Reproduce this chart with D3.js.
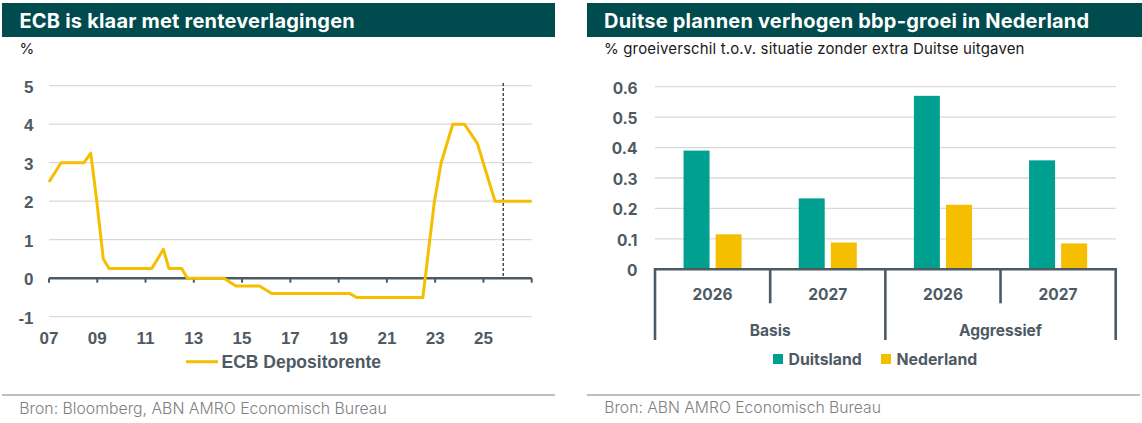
<!DOCTYPE html>
<html>
<head>
<meta charset="utf-8">
<script src="https://cdnjs.cloudflare.com/ajax/libs/d3/7.8.5/d3.min.js"></script>
<style>
    body { margin: 0; background: #fff; }
    text { font-family: Inter, "Noto Sans", sans-serif; }
</style>
</head>
<body>
<script>
// ---- left chart: ECB deposit rate, x in decimal years
var rateYears  = [2007.0, 2007.5, 2008.45, 2008.73, 2008.98, 2009.25, 2009.49, 2011.26, 2011.74, 2011.97,
                  2012.5, 2012.73, 2014.25, 2014.74, 2015.72, 2016.23, 2019.47, 2019.75, 2022.49, 2022.97,
                  2023.25, 2023.73, 2024.21, 2024.75, 2025.48, 2027.0];
var rateValues = [2.5, 3.0, 3.0, 3.25, 2.0, 0.5, 0.25, 0.25, 0.75, 0.25,
                  0.25, 0, 0, -0.2, -0.2, -0.4, -0.4, -0.5, -0.5, 2.0,
                  3.0, 4.0, 4.0, 3.5, 2.0, 2.0];
var yearTicks  = [2007, 2009, 2011, 2013, 2015, 2017, 2019, 2021, 2023, 2025, 2027];
var yearLabels = ["07", "09", "11", "13", "15", "17", "19", "21", "23", "25"];
var rateTicks  = [-1, 0, 1, 2, 3, 4, 5];
var forecastYear = 2025.82;   // dashed line

// ---- right chart: extra growth from German spending
var groups = ["Basis", "Aggressief"];
var years  = ["2026", "2027"];
var series = ["Duitsland", "Nederland"];
var duitsland = [0.39, 0.233, 0.57, 0.358];
var nederland = [0.115, 0.088, 0.212, 0.085];
var growthTicks = [0, 0.1, 0.2, 0.3, 0.4, 0.5, 0.6];

var titleBg = "#004b4d",
    slate = "#4e5a63",
    grid = "#d9d9d9",
    gold = "#f5bf00",
    teal = "#00a091",
    arial = "'Liberation Sans', Arial, sans-serif";

var svg = d3.select("body")
    .append("svg")
    .attr("width", 1142)
    .attr("height", 423);

// ================= LEFT =================
var left = svg.append("g");

left.append("rect").attr("x", 2).attr("y", 3).attr("width", 553).attr("height", 34).attr("fill", titleBg);
left.append("text").attr("x", 19.5).attr("y", 27.5)
    .attr("fill", "#fff").style("font-weight", 700).style("font-size", "20px")
    .style("letter-spacing", "0.2px")
    .text("ECB is klaar met renteverlagingen");
left.append("text").attr("x", 19.5).attr("y", 49).attr("dy", "0.35em")
    .attr("fill", "#1a1a1a").style("font-size", "15px").text("%");

var x = d3.scaleLinear().domain([2007, 2027]).range([49, 531.7]);
var y = d3.scaleLinear().domain([-1, 5]).range([316.7, 85.7]);

left.append("g")
    .selectAll("line")
    .data(rateTicks.filter(function(d){ return d !== 0; }))
    .enter()
    .append("line")
    .attr("x1", x(2007)).attr("x2", x(2027))
    .attr("y1", function(d){ return y(d); })
    .attr("y2", function(d){ return y(d); })
    .attr("stroke", grid).attr("stroke-width", 1.3);

left.append("g")
    .selectAll("text")
    .data(rateTicks)
    .enter()
    .append("text")
    .attr("x", 33.5)
    .attr("y", function(d){ return y(d) + 1; })
    .attr("dy", "0.35em")
    .attr("text-anchor", "end")
    .attr("fill", slate)
    .style("font-family", arial)
    .style("font-weight", 700).style("font-size", "17px")
    .text(function(d){ return d; });

// zero line doubles as x axis
left.append("line")
    .attr("x1", x(2007)).attr("x2", x(2027))
    .attr("y1", y(0)).attr("y2", y(0))
    .attr("stroke", slate).attr("stroke-width", 2.5);
left.append("g")
    .selectAll("line")
    .data(yearTicks)
    .enter()
    .append("line")
    .attr("x1", function(d){ return x(d); })
    .attr("x2", function(d){ return x(d); })
    .attr("y1", y(0)).attr("y2", y(0) + 4.5)
    .attr("stroke", slate).attr("stroke-width", 2);

left.append("g")
    .selectAll("text")
    .data(yearLabels)
    .enter()
    .append("text")
    .attr("x", function(d, i){ return x(yearTicks[i]); })
    .attr("y", 338.5)
    .attr("dy", "0.35em")
    .attr("text-anchor", "middle")
    .attr("fill", slate)
    .style("font-family", arial)
    .style("font-weight", 700).style("font-size", "17px")
    .text(function(d){ return d; });

left.append("line")
    .attr("x1", x(forecastYear)).attr("x2", x(forecastYear))
    .attr("y1", 83).attr("y2", y(0))
    .attr("stroke", "#222").attr("stroke-width", 1.2)
    .attr("stroke-dasharray", "3,2");

var line = d3.line()
    .x(function(d, i){ return x(rateYears[i]); })
    .y(function(d){ return y(d); });

left.append("path")
    .attr("d", line(rateValues))
    .attr("fill", "none")
    .attr("stroke", gold)
    .attr("stroke-width", 3)
    .attr("stroke-linejoin", "round");

// legend
left.append("line").attr("x1", 186).attr("x2", 218).attr("y1", 361.7).attr("y2", 361.7)
    .attr("stroke", gold).attr("stroke-width", 3);
left.append("text").attr("x", 221.5).attr("y", 361.7).attr("dy", "0.35em")
    .attr("fill", slate)
    .style("font-family", arial)
    .style("font-weight", 700).style("font-size", "17.5px")
    .text("ECB Depositorente");

left.append("line").attr("x1", 2).attr("x2", 555).attr("y1", 395).attr("y2", 395)
    .attr("stroke", "#bfbfbf").attr("stroke-width", 2);
left.append("text").attr("x", 19.3).attr("y", 408.3).attr("dy", "0.35em")
    .attr("fill", "#808080").style("font-size", "15.8px").style("font-weight", 300)
    .text("Bron: Bloomberg, ABN AMRO Economisch Bureau");

// ================= RIGHT =================
var right = svg.append("g");

right.append("rect").attr("x", 587).attr("y", 3).attr("width", 555).attr("height", 34).attr("fill", titleBg);
right.append("text").attr("x", 604).attr("y", 27.5)
    .attr("fill", "#fff").style("font-weight", 700).style("font-size", "20px")
    .style("letter-spacing", "0.2px")
    .text("Duitse plannen verhogen bbp-groei in Nederland");
right.append("text").attr("x", 604).attr("y", 49).attr("dy", "0.35em")
    .attr("fill", "#1a1a1a").style("font-size", "15px").style("letter-spacing", "0.15px")
    .text("% groeiverschil t.o.v. situatie zonder extra Duitse uitgaven");

// one band per group/year pair
var cats = [];
groups.forEach(function(g){ years.forEach(function(yr){ cats.push({group: g, year: yr}); }); });
cats.forEach(function(c, i){ c.Duitsland = duitsland[i]; c.Nederland = nederland[i]; });

var x0 = d3.scaleBand().domain(d3.range(cats.length)).range([655, 1115.7]);
var xg = d3.scaleBand().domain(groups).range([655, 1115.7]);
var x1 = d3.scaleBand().domain(series).range([0, x0.bandwidth()]).paddingInner(0.19).paddingOuter(0.89);
var y2 = d3.scaleLinear().domain([0, 0.6]).range([269.3, 86.7]);
var color = d3.scaleOrdinal().domain(series).range([teal, gold]);

right.append("g")
    .selectAll("line")
    .data(growthTicks.slice(1))
    .enter()
    .append("line")
    .attr("x1", 655).attr("x2", 1115.7)
    .attr("y1", function(d){ return y2(d); })
    .attr("y2", function(d){ return y2(d); })
    .attr("stroke", grid).attr("stroke-width", 1.3);

right.append("g")
    .selectAll("text")
    .data(growthTicks)
    .enter()
    .append("text")
    .attr("x", 637.5)
    .attr("y", function(d){ return y2(d) + 1.5; })
    .attr("dy", "0.35em")
    .attr("text-anchor", "end")
    .attr("fill", slate)
    .style("font-weight", 700).style("font-size", "15.5px")
    .text(function(d){ return d; });

right.append("g")
    .selectAll("g")
    .data(cats)
    .enter()
    .append("g")
    .attr("transform", function(d, i){ return "translate(" + x0(i) + ",0)"; })
    .selectAll("rect")
    .data(function(d){ return series.map(function(s){ return {key: s, value: d[s]}; }); })
    .enter()
    .append("rect")
    .attr("x", function(d){ return x1(d.key); })
    .attr("width", x1.bandwidth())
    .attr("y", function(d){ return y2(d.value); })
    .attr("height", function(d){ return y2(0) - y2(d.value); })
    .attr("fill", function(d){ return color(d.key); });

// category axis, two levels
right.append("line")
    .attr("x1", 655).attr("x2", 1115.7)
    .attr("y1", y2(0)).attr("y2", y2(0))
    .attr("stroke", slate).attr("stroke-width", 2.6);

right.append("g")
    .selectAll("line")
    .data(cats.filter(function(c){ return c.year !== years[0]; }))
    .enter()
    .append("line")
    .attr("x1", function(d){ return x0(cats.indexOf(d)); })
    .attr("x2", function(d){ return x0(cats.indexOf(d)); })
    .attr("y1", y2(0)).attr("y2", 303.3)
    .attr("stroke", slate).attr("stroke-width", 2.6);

var groupEdges = groups.map(function(g){ return xg(g); }).concat([xg.range()[1]]);
right.append("g")
    .selectAll("line")
    .data(groupEdges)
    .enter()
    .append("line")
    .attr("x1", function(d){ return d; })
    .attr("x2", function(d){ return d; })
    .attr("y1", y2(0) - 1.3).attr("y2", 340)
    .attr("stroke", slate).attr("stroke-width", 2.6);

right.append("g")
    .selectAll("text")
    .data(cats)
    .enter()
    .append("text")
    .attr("x", function(d, i){ return x0(i) + x0.bandwidth() / 2; })
    .attr("y", 294.3)
    .attr("dy", "0.35em")
    .attr("text-anchor", "middle")
    .attr("fill", slate)
    .style("font-weight", 700).style("font-size", "15.5px")
    .text(function(d){ return d.year; });

right.append("g")
    .selectAll("text")
    .data(groups)
    .enter()
    .append("text")
    .attr("x", function(d){ return xg(d) + xg.bandwidth() / 2; })
    .attr("y", 330.7)
    .attr("dy", "0.35em")
    .attr("text-anchor", "middle")
    .attr("fill", slate)
    .style("font-weight", 700).style("font-size", "15.5px")
    .text(function(d){ return d; });

// legend
var leg = right.append("g")
    .selectAll("g")
    .data(series)
    .enter()
    .append("g")
    .attr("transform", function(d, i){ return "translate(" + (773 + i * 108) + ",354)"; });
leg.append("rect").attr("width", 10).attr("height", 10).attr("fill", function(d){ return color(d); });
leg.append("text").attr("x", 15.5).attr("y", 5.3).attr("dy", "0.35em")
    .attr("fill", slate)
    .style("font-weight", 700).style("font-size", "15.8px")
    .text(function(d){ return d; });

right.append("line").attr("x1", 587).attr("x2", 1140).attr("y1", 395).attr("y2", 395)
    .attr("stroke", "#bfbfbf").attr("stroke-width", 2);
right.append("text").attr("x", 604.3).attr("y", 408).attr("dy", "0.35em")
    .attr("fill", "#808080").style("font-size", "15.7px").style("font-weight", 300)
    .text("Bron: ABN AMRO Economisch Bureau");
</script>
</body>
</html>
